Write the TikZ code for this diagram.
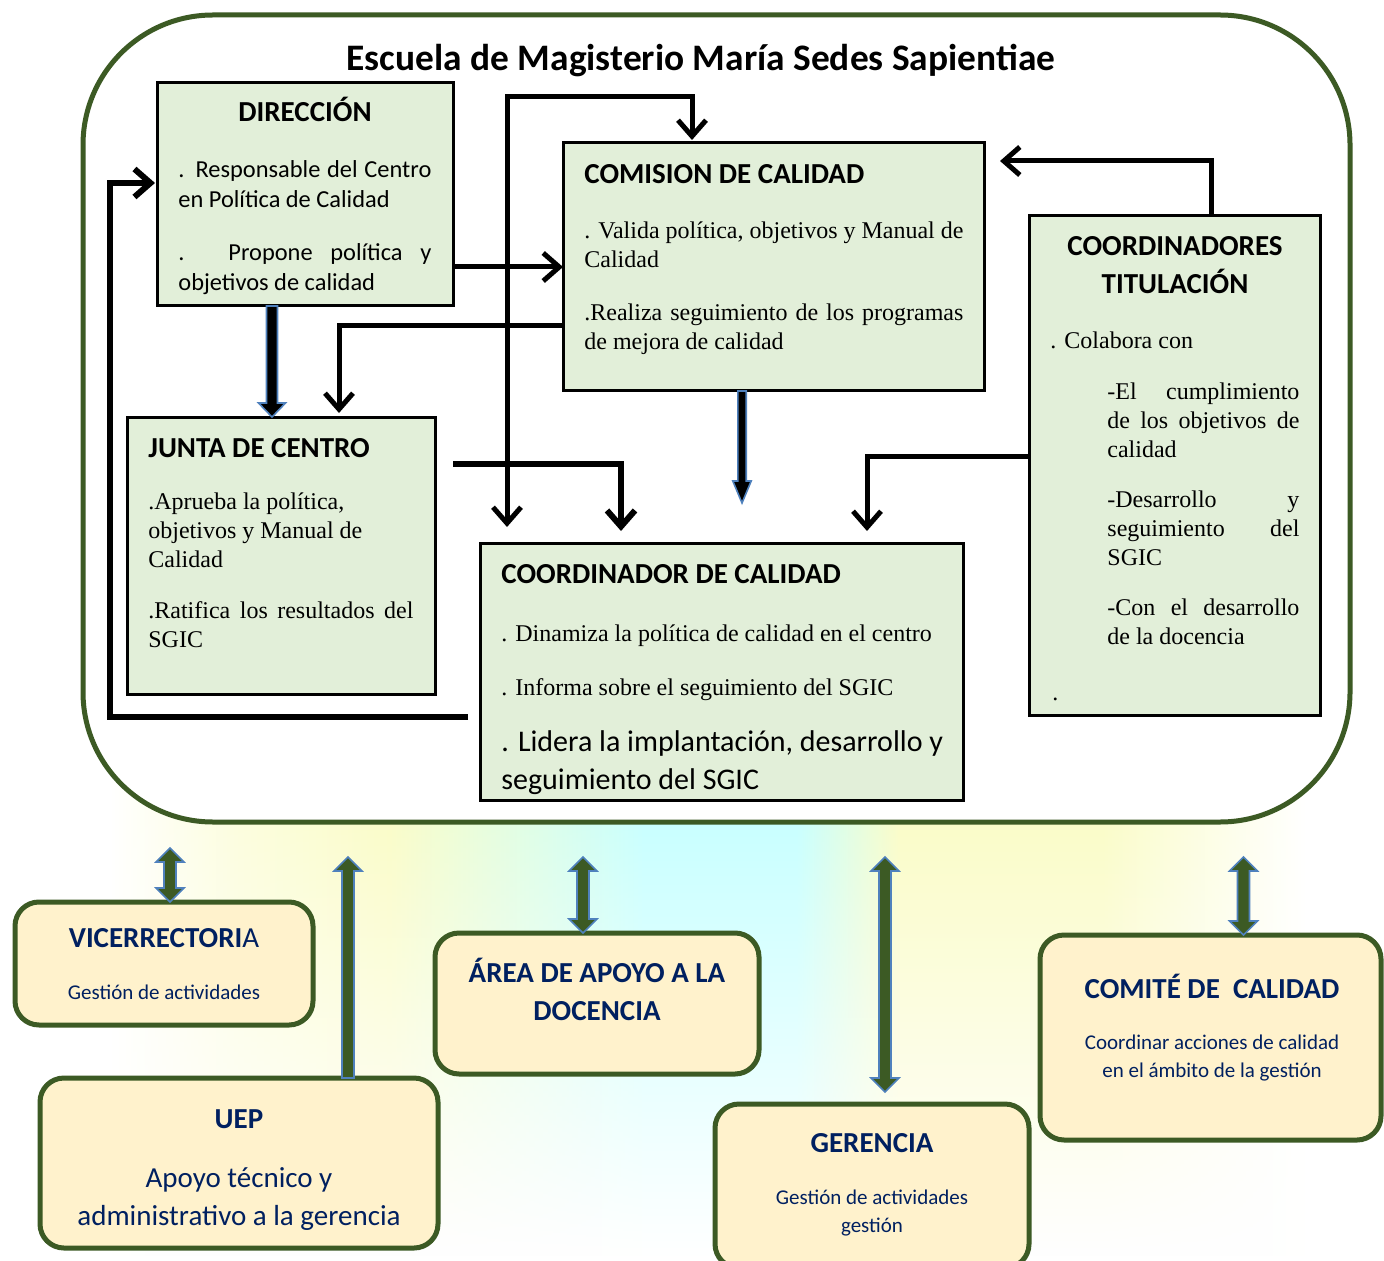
\documentclass[tikz,border=0pt]{standalone}
\usepackage{fontspec}
\setmainfont{Liberation Serif}
\newfontfamily\calibri{Carlito}
\usetikzlibrary{arrows.meta,calc,fadings}
\hyphenpenalty=10000
\exhyphenpenalty=10000

\definecolor{dgreen}{RGB}{60,90,36}
\definecolor{lgreen}{RGB}{226,239,217}
\definecolor{cream}{RGB}{255,242,204}
\definecolor{navy}{RGB}{0,32,96}
\definecolor{ablue}{RGB}{79,129,189}
\definecolor{bgyel}{RGB}{250,252,196}
\definecolor{bgcyan}{RGB}{196,255,255}

\pgfdeclarehorizontalshading{bgshade}{100bp}{color(0bp)=(white); color(25bp)=(white); color(30bp)=(bgyel!60!white); color(36bp)=(bgyel); color(41bp)=(bgyel!50!bgcyan); color(46bp)=(bgcyan); color(52bp)=(bgcyan); color(56bp)=(bgyel); color(64bp)=(bgyel); color(72bp)=(white); color(100bp)=(white)}
\tikzfading[name=vfade, top color=transparent!0, middle color=transparent!5, bottom color=transparent!100]

\newcommand\dblarr[6]{\path[#1] let \p1=#2, \p2=#3 in (\x1,\y1) -- (\x1+#5,\y1-#6) -- (\x1+#4,\y1-#6) -- (\x1+#4,\y2+#6) -- (\x1+#5,\y2+#6) -- (\x1,\y2) -- (\x1-#5,\y2+#6) -- (\x1-#4,\y2+#6) -- (\x1-#4,\y1-#6) -- (\x1-#5,\y1-#6) -- cycle;}
\newcommand\uparr[6]{\path[#1] let \p1=#2, \p2=#3 in (\x1-#4,\y2) -- (\x1-#4,\y1-#6) -- (\x1-#5,\y1-#6) -- (\x1,\y1) -- (\x1+#5,\y1-#6) -- (\x1+#4,\y1-#6) -- (\x1+#4,\y2) -- cycle;}
\newcommand\downarr[6]{\path[#1] let \p1=#2, \p2=#3 in (\x1-#4,\y1) -- (\x1-#4,\y2+#6) -- (\x1-#5,\y2+#6) -- (\x1,\y2) -- (\x1+#5,\y2+#6) -- (\x1+#4,\y2+#6) -- (\x1+#4,\y1) -- cycle;}

\begin{document}
\begin{tikzpicture}[x=0.5pt,y=-0.5pt,
  barb/.tip={Straight Barb[length=8pt,width=14pt]},
  gbox/.style={draw=black, line width=1.5pt, fill=lgreen, inner sep=0, outer sep=0, anchor=north west},
  ybox/.style={draw=dgreen, line width=2.5pt, fill=cream, rounded corners=12pt, inner sep=0, outer sep=0, anchor=north west},
  conn/.style={line width=2.5pt, draw=black},
  ttl/.style={font=\calibri\bfseries\fontsize{14.5}{19}\selectfont, inner sep=0},
  cbody/.style={font=\calibri\fontsize{12.2}{15}\selectfont, inner sep=0},
  sbody/.style={font=\fontsize{12}{14.5}\selectfont, inner sep=0},
  nttl/.style={font=\calibri\bfseries\fontsize{14.5}{19}\selectfont, text=navy, inner sep=0},
  nbig/.style={font=\calibri\fontsize{14.5}{19}\selectfont, text=navy, inner sep=0},
  nsmall/.style={font=\calibri\fontsize{10.5}{14}\selectfont, text=navy, inner sep=0},
  garr/.style={fill=dgreen, draw=ablue, line width=0.8pt},
  barr/.style={fill=black, draw=ablue, line width=0.8pt}]

\useasboundingbox (0,0) rectangle (1384,1261);
\fill[white] (0,0) rectangle (1384,1261);
\shade[shading=bgshade, path fading=vfade] (110,780) rectangle (1384,1255);

% outer frame
\node[draw=dgreen, line width=2.5pt, fill=white, rounded corners=65pt, minimum width=633.5pt, minimum height=403.5pt, anchor=north west, inner sep=0, outer sep=0] (outer) at (83,15) {};
\node[font=\calibri\bfseries\fontsize{18.7}{22}\selectfont, inner sep=0, anchor=base] (title) at (701,71) {Escuela de Magisterio María Sedes Sapientiae};

% inner boxes
\node[gbox, minimum width=148pt, minimum height=111.5pt] (dir) at (157,83) {};
\node[gbox, minimum width=210.5pt, minimum height=124pt] (com) at (563,143) {};
\node[gbox, minimum width=145.5pt, minimum height=249.5pt] (coo) at (1029,216) {};
\node[gbox, minimum width=154pt, minimum height=138.5pt] (jun) at (127,417) {};
\node[gbox, minimum width=241.5pt, minimum height=128.5pt] (cc) at (480,543) {};

% connectors
\draw[conn, -barb] (dir.east |- 0,267) -- (com.west |- 0,267);
\draw[conn, barb-barb] ($(cc.north west)+(27,-16)$) |- ($(com.north west)+(129,-46)$) -- ($(com.north west)+(129,-3)$);
\draw[conn, -barb] (com.west |- 0,326) -| ($(jun.north west)+(212,-4)$);
\draw[conn, line width=3pt, -barb] ($(jun.north east)+(18,47)$) -| ($(cc.north west)+(141,-12)$);
\draw[conn, -barb] (coo.west |- 0,456) -| ($(cc.north west)+(387,-12)$);
\draw[conn, -barb] ($(coo.north west)+(182,0)$) |- ($(com.north east)+(16,18)$);
\draw[conn, line width=3pt, -barb] ($(cc.north west)+(-12,174)$) -- ++(-358,0) |- ($(dir.west)+(-2,-11.5)$);
\downarr{barr}{($(dir.south)+(-33,0)$)}{($(jun.north)+(-9,0)$)}{2.75pt}{6.75pt}{7pt}
\downarr{barr}{($(com.south)+(-31.5,0)$)}{($(com.south)+(-31.5,112)$)}{2.1pt}{4.6pt}{11pt}

% texts of inner boxes
\node[ttl, anchor=base] (dirT) at (305,122) {DIRECCIÓN};
\node[cbody, anchor=north west, text width=126.5pt, align=justify] (dirB) at (178,156) {\strut. Responsable del Centro\linebreak en Política de Calidad\par\vspace{11.5pt}. Propone política y\linebreak objetivos de calidad};

\node[ttl, anchor=base west] (comT) at (584,184) {COMISION DE CALIDAD};
\node[sbody, anchor=north west, text width=189.5pt, align=justify] (comB) at (584,217.5) {\strut. Valida política, objetivos y Manual de\linebreak Calidad\par\vspace{12pt}.Realiza seguimiento de los programas\linebreak de mejora de calidad};

\node[ttl, anchor=north, align=center] (cooT) at (1175,229) {\strut COORDINADORES\\TITULACIÓN};
\node[sbody, anchor=base west] (cooA) at (1050,348.5) {. Colabora con};
\node[sbody, anchor=north west, text width=96pt, align=justify] (cooB) at (1107,379) {\strut-El cumplimiento\linebreak de los objetivos de\linebreak calidad\par\vspace{10.5pt}-Desarrollo y\linebreak seguimiento del\linebreak SGIC\par\vspace{10.5pt}-Con el desarrollo\linebreak de la docencia};
\node[sbody, anchor=base west] (cooC) at (1052,700) {.};

\node[ttl, anchor=base west] (junT) at (148,457) {JUNTA DE CENTRO};
\node[sbody, anchor=north west, text width=132.5pt, align=justify] (junB) at (148,489) {\strut.Aprueba la política,\newline objetivos y Manual de\newline Calidad\par\vspace{11pt}.Ratifica los resultados del\linebreak SGIC};

\node[ttl, anchor=base west] (ccT) at (501,583) {COORDINADOR DE CALIDAD};
\node[sbody, anchor=base west] (ccA) at (501,641) {. Dinamiza la política de calidad en el centro};
\node[sbody, anchor=base west] (ccB) at (501,695) {. Informa sobre el seguimiento del SGIC};
\node[font=\calibri\fontsize{15}{19}\selectfont, inner sep=0, anchor=north west, align=left] (ccC) at (501,724) {\strut. Lidera la implantación, desarrollo y\\seguimiento del SGIC};

% bottom boxes
\node[ybox, minimum width=149pt, minimum height=61.5pt] (vic) at (15,902) {};
\node[ybox, minimum width=199pt, minimum height=85pt] (uep) at (40,1078) {};
\node[ybox, minimum width=162pt, minimum height=70.5pt] (area) at (435,933) {};
\node[ybox, minimum width=157pt, minimum height=82pt] (ger) at (715,1104) {};
\node[ybox, minimum width=170.5pt, minimum height=102.5pt] (comi) at (1040,935) {};

\dblarr{garr}{($(vic.north)+(6,-54)$)}{($(vic.north)+(6,0)$)}{3pt}{7pt}{7pt}
\uparr{garr}{($(uep.north)+(109,-221)$)}{($(uep.north)+(109,0)$)}{3pt}{7pt}{7pt}
\dblarr{garr}{($(area.north)+(-14,-76)$)}{($(area.north)+(-14,0)$)}{3pt}{7pt}{7pt}
\dblarr{garr}{($(ger.north)+(13,-247)$)}{($(ger.north)+(13,-12)$)}{3pt}{7pt}{7pt}
\dblarr{garr}{($(comi.north)+(33,-78)$)}{($(comi.north)+(33,0)$)}{3pt}{7pt}{7pt}

\node[nttl, anchor=base] (vicT) at (164,947) {VICERRECTORI\mdseries A};
\node[nsmall, anchor=base] (vicB) at (164,999) {Gestión de actividades};
\node[nttl, anchor=base] (uepT) at (239,1128) {UEP};
\node[nbig, anchor=north, align=center] (uepB) at (239,1160) {\strut Apoyo técnico y\\administrativo a la gerencia};
\node[nttl, anchor=north, align=center] (areaT) at (597,955.5) {\strut ÁREA DE APOYO A LA\\DOCENCIA};
\node[nttl, anchor=base] (gerT) at (872,1152) {GERENCIA};
\node[nsmall, anchor=north, align=center] (gerB) at (872,1184.5) {\strut Gestión de actividades\\gestión};
\node[nttl, anchor=base] (comiT) at (1212,998) {COMITÉ DE\ \ CALIDAD};
\node[nsmall, anchor=north, align=center] (comiB) at (1212,1029.5) {\strut Coordinar acciones de calidad\\en el ámbito de la gestión};
\end{tikzpicture}
\end{document}
